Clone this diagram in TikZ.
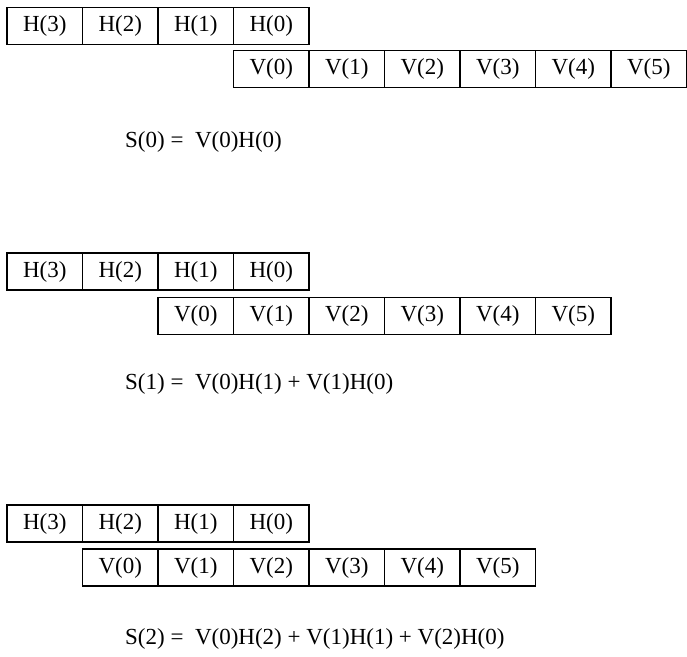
\documentclass[tikz,border=0pt]{standalone}
\usepackage{fontspec}
\setmainfont{Liberation Serif}
\usetikzlibrary{positioning}

\begin{document}
\begin{tikzpicture}[
    x=1pt, y=-1pt,
    cell/.style={draw, rectangle, line width=1.1pt, minimum width=75.5pt, minimum height=37pt, inner sep=0pt, font=\fontsize{23}{27}\selectfont},
    sum/.style={anchor=west, inner sep=0pt, font=\fontsize{23}{27}\selectfont},
]
    \useasboundingbox (0,0) rectangle (687,656);

    % H rows
    \foreach \p/\y in {1/26, 2/271.5, 3/523.5} {
        \foreach \k [evaluate=\k as \x using 44.75+(3-\k)*75.5] in {3,2,1,0} {
            \node[cell] (h\k p\p) at (\x,\y) {H(\k)};
        }
    }

    % V rows, shifted one cell left each step
    \foreach \p/\s/\y in {1/3/69, 2/2/316, 3/1/567.5} {
        \foreach \k [evaluate=\k as \x using 44.75+(\s+\k)*75.5] in {0,...,5} {
            \node[cell] (v\k p\p) at (\x,\y) {V(\k)};
        }
    }

    % Sums
    \node[sum] (s0) at (125,142) {S(0) =\ \ V(0)H(0)};
    \node[sum] (s1) at (125,384) {S(1) =\ \ V(0)H(1) + V(1)H(0)};
    \node[sum] (s2) at (125,639) {S(2) =\ \ V(0)H(2) + V(1)H(1) + V(2)H(0)};
\end{tikzpicture}
\end{document}
